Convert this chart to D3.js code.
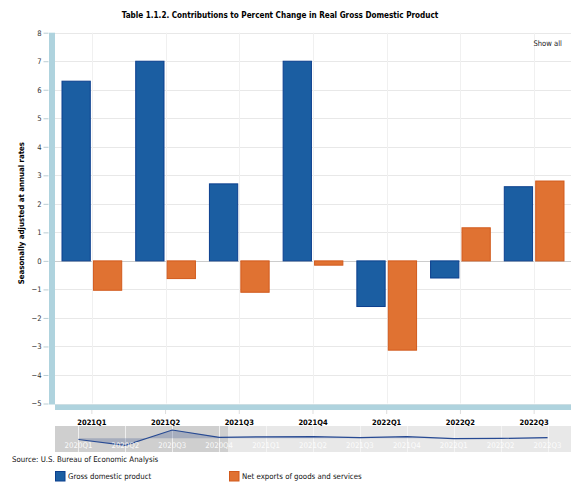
<!DOCTYPE html>
<html>
<head>
<meta charset="utf-8">
<script src="https://cdn.jsdelivr.net/npm/d3@7"></script>
<style>
  html, body { margin: 0; padding: 0; background: #fff; }
  svg { display: block; font-family: "DejaVu Sans Condensed", "DejaVu Sans", sans-serif; }
</style>
</head>
<body>
<svg id="chart" width="583" height="500"></svg>
<script>
// ---- data ----
const categories = ["2021Q1", "2021Q2", "2021Q3", "2021Q4", "2022Q1", "2022Q2", "2022Q3"];
const seriesNames = ["Gross domestic product", "Net exports of goods and services"];
const gdpValues = [6.3, 7.0, 2.7, 7.0, -1.6, -0.6, 2.6];
const netExportValues = [-1.03, -0.62, -1.1, -0.15, -3.13, 1.16, 2.8];
const yTicks = [-5, -4, -3, -2, -1, 0, 1, 2, 3, 4, 5, 6, 7, 8];
const navCategories = ["2020Q1", "2020Q2", "2020Q3", "2020Q4", "2021Q1", "2021Q2", "2021Q3", "2021Q4", "2022Q1", "2022Q2", "2022Q3"];
const navGdpValues = [-5.3, -29.9, 35.3, 3.9, 6.3, 7.0, 2.7, 7.0, -1.6, -0.6, 2.6];

// ---- layout ----
const L = 55, R = 571, T = 32.7, B = 403.5;
const colors = ["#1b5ea2", "#e07232"];
const strokes = ["#0b3f8e", "#d25a1c"];
const axisBlue = "#afd3de";

const svg = d3.select("#chart");

const y = d3.scaleLinear().domain([-5, 8]).range([B, T]);
const x0 = d3.scaleBand().domain(categories).range([L, R]).padding(0);
const bw = x0.bandwidth();
const x1 = d3.scaleBand().domain(seriesNames).range([0.095 * bw, 0.905 * bw]).paddingInner(0.1).paddingOuter(0);

// title
svg.append("text").attr("x", 280).attr("y", 18)
  .attr("text-anchor", "middle").attr("font-weight", "bold").attr("font-size", 8.1)
  .attr("fill", "#000")
  .text("Table 1.1.2. Contributions to Percent Change in Real Gross Domestic Product");

// horizontal gridlines
svg.append("g").selectAll("line").data(yTicks).join("line")
  .attr("x1", L).attr("x2", R)
  .attr("y1", d => Math.round(y(d)) + 0.5).attr("y2", d => Math.round(y(d)) + 0.5)
  .attr("stroke", d => d === 0 ? "#cccccc" : "#e8e8e8").attr("stroke-width", 1);

// vertical gridlines at category centers
svg.append("g").selectAll("line").data(categories).join("line")
  .attr("x1", d => Math.round(x0(d) + bw / 2) + 0.5).attr("x2", d => Math.round(x0(d) + bw / 2) + 0.5)
  .attr("y1", T).attr("y2", B)
  .attr("stroke", "#f0f0f0");

// bars
const rows = categories.map((c, i) => ({ cat: c, vals: [gdpValues[i], netExportValues[i]] }));
const groups = svg.append("g").selectAll("g").data(rows).join("g")
  .attr("transform", d => `translate(${x0(d.cat)},0)`);
groups.selectAll("rect").data(d => d.vals.map((v, k) => ({ v, k }))).join("rect")
  .attr("x", d => x1(seriesNames[d.k]))
  .attr("width", x1.bandwidth())
  .attr("y", d => y(Math.max(0, d.v)))
  .attr("height", d => Math.abs(y(d.v) - y(0)))
  .attr("fill", d => colors[d.k])
  .attr("stroke", d => strokes[d.k])
  .attr("stroke-width", 1);

// y axis bar
svg.append("rect").attr("x", 49).attr("y", T).attr("width", 6).attr("height", B - T + 1)
  .attr("fill", axisBlue);
// x axis bar
svg.append("rect").attr("x", L).attr("y", B + 1).attr("width", R - L).attr("height", 5.5)
  .attr("fill", axisBlue);

// y axis ticks & labels
const yAxis = d3.axisLeft(y).tickValues(yTicks).tickSize(5).tickPadding(2).tickFormat(d3.format("d"));
const yg = svg.append("g").attr("transform", `translate(48.5,0)`).call(yAxis);
yg.select(".domain").remove();
yg.selectAll(".tick line").attr("stroke", "#b9cdd4");
yg.selectAll(".tick text").attr("font-size", 7.6).attr("fill", "#333")
  .attr("font-family", "DejaVu Sans Condensed, DejaVu Sans, sans-serif");

// x axis ticks & labels
const xAxis = d3.axisBottom(x0).tickSize(4).tickPadding(6);
const xg = svg.append("g").attr("transform", `translate(0,${B + 6.5})`).call(xAxis);
xg.select(".domain").remove();
xg.selectAll(".tick line").attr("stroke", "#dddddd");
xg.selectAll(".tick text").attr("font-size", 7.5).attr("font-weight", "bold").attr("fill", "#000")
  .attr("font-family", "DejaVu Sans Condensed, DejaVu Sans, sans-serif");

// y axis title
svg.append("text")
  .attr("transform", `translate(24,${(T + B) / 2 - 5}) rotate(-90)`)
  .attr("text-anchor", "middle").attr("font-weight", "bold").attr("font-size", 7.8)
  .text("Seasonally adjusted at annual rates");

// show all
svg.append("text").attr("x", 562).attr("y", 45.5).attr("text-anchor", "end")
  .attr("font-size", 7.6).attr("fill", "#222").text("Show all");

// ---- navigator ----
const NT = 426, NB = 452;
const navX = d3.scalePoint().domain(navCategories).range([L, R]).padding(0.5);
const navY = d3.scaleLinear().domain(d3.extent(navGdpValues)).range([445.3, 430]);
const maskX = 228;
svg.append("rect").attr("x", L).attr("y", NT).attr("width", maskX - L).attr("height", NB - NT).attr("fill", "#cfcfcf");
svg.append("rect").attr("x", maskX).attr("y", NT).attr("width", R - maskX).attr("height", NB - NT).attr("fill", "#e8e8e8");
svg.append("g").selectAll("line").data(navCategories).join("line")
  .attr("x1", d => Math.round(navX(d)) + 0.5).attr("x2", d => Math.round(navX(d)) + 0.5)
  .attr("y1", NT).attr("y2", NB).attr("stroke", "#f6f6f6").attr("stroke-opacity", 0.8);
const navData = navCategories.map((c, i) => ({ c, v: navGdpValues[i] }));
svg.append("path").datum(navData)
  .attr("d", d3.area().x(d => navX(d.c)).y0(navY(0)).y1(d => navY(d.v)))
  .attr("fill", "#4a5f95").attr("fill-opacity", 0.3);
svg.append("path").datum(navData)
  .attr("d", d3.line().x(d => navX(d.c)).y(d => navY(d.v)))
  .attr("fill", "none").attr("stroke", "#274a93").attr("stroke-width", 1.2);
svg.append("g").selectAll("text").data(navCategories).join("text")
  .attr("x", d => navX(d)).attr("y", 447.5).attr("text-anchor", "middle")
  .attr("font-size", 7.8).attr("fill", "#ffffff").attr("fill-opacity", 0.9)
  .text(d => d);

// source
svg.append("text").attr("x", 12).attr("y", 461.5).attr("font-size", 7.8).attr("fill", "#111")
  .text("Source: U.S. Bureau of Economic Analysis");

// legend
const legendX = [55, 229];
const lg = svg.append("g").selectAll("g").data(seriesNames).join("g")
  .attr("transform", (d, i) => `translate(${legendX[i]},471)`);
lg.append("rect").attr("x", 0.5).attr("y", 0.5).attr("width", 9.5).attr("height", 9.5)
  .attr("fill", (d, i) => colors[i]).attr("stroke", (d, i) => strokes[i]);
lg.append("text").attr("x", 13).attr("y", 8.2).attr("font-size", 7.8).attr("fill", "#111").text(d => d);
</script>
</body>
</html>
